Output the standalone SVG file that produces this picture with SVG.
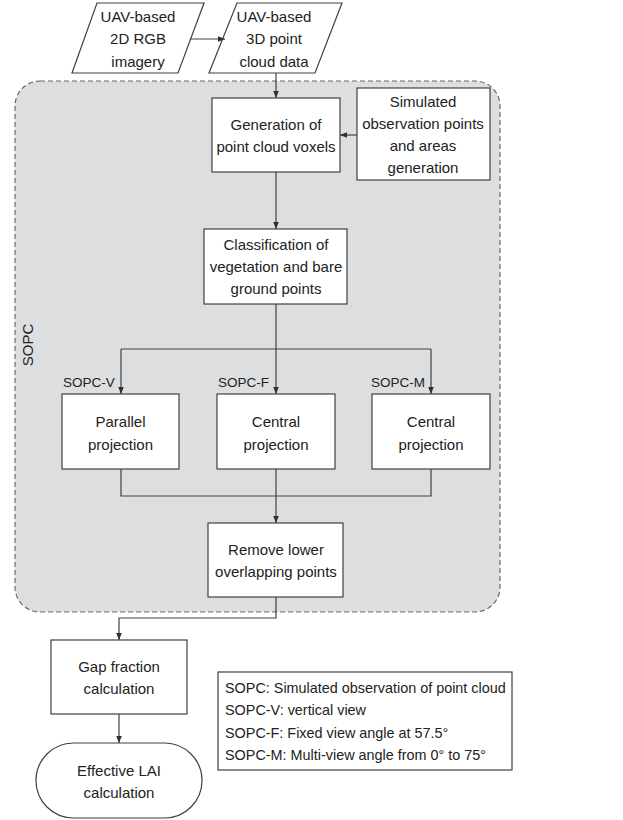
<svg xmlns="http://www.w3.org/2000/svg" width="623" height="820" viewBox="0 0 623 820">
<style>
text{font-family:"Liberation Sans",Arial,sans-serif;font-size:15px;fill:#222;text-anchor:middle}
.l{text-anchor:start}
.s{font-size:13.5px}
.box{fill:#fff;stroke:#404040;stroke-width:1.2}
.c{fill:none;stroke:#404040;stroke-width:1.2}
</style>
<defs>
<marker id="a" viewBox="0 0 10 10" refX="10" refY="5" markerWidth="7" markerHeight="7" markerUnits="userSpaceOnUse" orient="auto">
<path d="M0,1 L10,5 L0,9 Z" fill="#303030"/>
</marker>
</defs>
<rect id="sopc-region" x="15" y="81" width="485" height="531" rx="25" ry="25" fill="#dddee0" stroke="#6a6a6a" stroke-width="1.2" stroke-dasharray="5,3"/>
<text x="33" y="345" transform="rotate(-90 33 345)">SOPC</text>
<g id="n-rgb"><path class="box" d="M97,3 L204,3 L178,73 L72,73 Z"/><text x="138" y="22">UAV-based</text><text x="138" y="44">2D RGB</text><text x="138" y="67">imagery</text></g>
<g id="n-pc"><path class="box" d="M237,3 L342,3 L315,73 L209,73 Z"/><text x="274" y="22">UAV-based</text><text x="274" y="44">3D point</text><text x="274" y="67">cloud data</text></g>
<g id="n-gen"><rect class="box" x="212" y="98" width="128" height="74"/><text x="276" y="130">Generation of</text><text x="276" y="152">point cloud voxels</text></g>
<g id="n-sim"><rect class="box" x="357" y="88" width="133" height="92"/><text x="423" y="107">Simulated</text><text x="423" y="129">observation points</text><text x="423" y="151">and areas</text><text x="423" y="173">generation</text></g>
<g id="n-cls"><rect class="box" x="204" y="229" width="143" height="75"/><text x="276" y="250">Classification of</text><text x="276" y="272">vegetation and bare</text><text x="276" y="294">ground points</text></g>
<g id="n-par"><rect class="box" x="62" y="394" width="117" height="75"/><text x="120.5" y="427">Parallel</text><text x="120.5" y="450">projection</text></g>
<g id="n-cen1"><rect class="box" x="217" y="394" width="118" height="75"/><text x="276" y="427">Central</text><text x="276" y="450">projection</text></g>
<g id="n-cen2"><rect class="box" x="372" y="394" width="118" height="75"/><text x="431" y="427">Central</text><text x="431" y="450">projection</text></g>
<g id="labels"><text class="l s" x="63" y="387">SOPC-V</text><text class="l s" x="218" y="387">SOPC-F</text><text class="l s" x="371" y="387">SOPC-M</text></g>
<g id="n-rem"><rect class="box" x="208" y="523" width="135" height="74"/><text x="276" y="555">Remove lower</text><text x="276" y="577">overlapping points</text></g>
<g id="n-gap"><rect class="box" x="51" y="640" width="136" height="74"/><text x="119" y="672">Gap fraction</text><text x="119" y="694">calculation</text></g>
<g id="n-lai"><rect class="box" x="36" y="743" width="166" height="75" rx="37.5" ry="37.5"/><text x="119" y="776">Effective LAI</text><text x="119" y="798">calculation</text></g>
<g id="legend"><rect class="box" x="218" y="672" width="294" height="98"/>
<text class="l" x="225" y="693" style="font-size:14.4px">SOPC: Simulated observation of point cloud</text>
<text class="l" x="225" y="715" style="font-size:14.4px">SOPC-V: vertical view</text>
<text class="l" x="225" y="738" style="font-size:14.4px">SOPC-F: Fixed view angle at 57.5°</text>
<text class="l" x="225" y="760" style="font-size:14.4px">SOPC-M: Multi-view angle from 0° to 75°</text></g>
<g id="connectors">
<path class="c" d="M191,39 L225,39" marker-end="url(#a)"/>
<path class="c" d="M276,73 L276,98" marker-end="url(#a)"/>
<path class="c" d="M357,135 L340,135" marker-end="url(#a)"/>
<path class="c" d="M276,172 L276,229" marker-end="url(#a)"/>
<path class="c" d="M276,304 L276,394" marker-end="url(#a)"/>
<path class="c" d="M121,349 L431,349"/>
<path class="c" d="M121,349 L121,394" marker-end="url(#a)"/>
<path class="c" d="M431,349 L431,394" marker-end="url(#a)"/>
<path class="c" d="M121,469 L121,496 L431,496 L431,469"/>
<path class="c" d="M276,469 L276,523" marker-end="url(#a)"/>
<path class="c" d="M276,597 L276,618 L119,618 L119,640" marker-end="url(#a)"/>
<path class="c" d="M119,714 L119,743" marker-end="url(#a)"/>
</g>
</svg>
